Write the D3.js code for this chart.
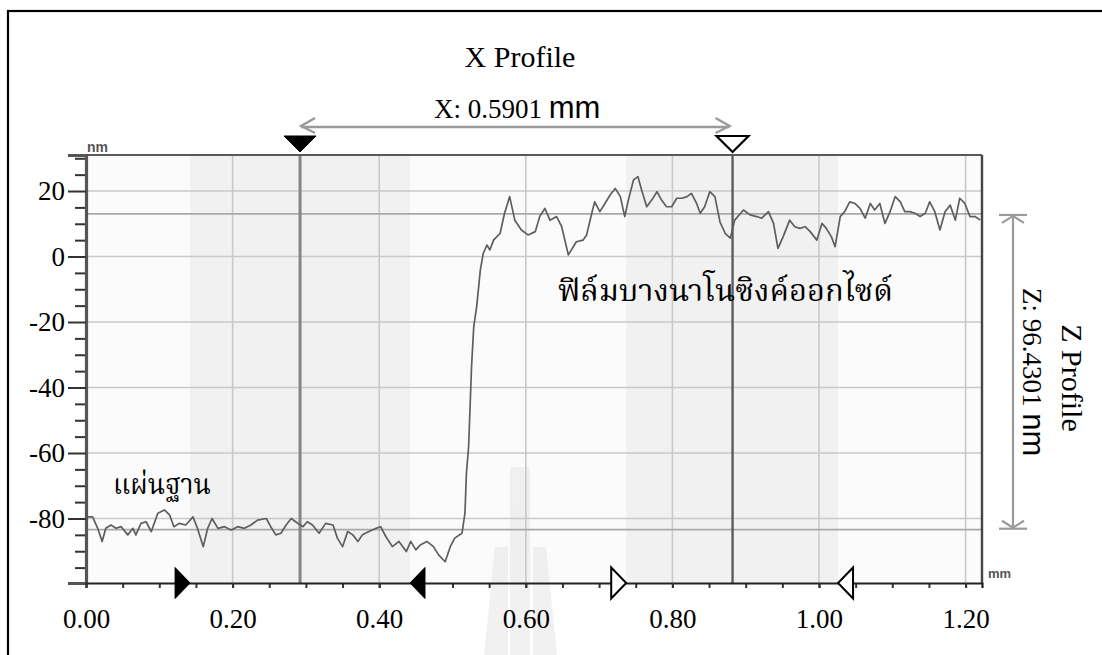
<!DOCTYPE html>
<html>
<head>
<meta charset="utf-8">
<script src="https://cdn.jsdelivr.net/npm/d3@7"></script>
<style>
  html, body { margin: 0; padding: 0; background: #ffffff; }
  svg { display: block; }
</style>
</head>
<body>
<svg id="chart" width="1102" height="655"></svg>
<script>
// ---------------- data ----------------
const profileX = [
  0.002,0.009,0.016,0.022,0.027,0.034,0.041,0.048,0.057,0.064,
  0.068,0.075,0.082,0.089,0.098,0.107,0.114,0.120,0.127,0.136,
  0.146,0.152,0.160,0.166,0.172,0.180,0.189,0.198,0.207,0.216,
  0.225,0.234,0.246,0.252,0.259,0.266,0.273,0.280,0.286,0.296,
  0.302,0.309,0.318,0.327,0.337,0.343,0.350,0.357,0.364,0.371,
  0.377,0.386,0.396,0.402,0.409,0.418,0.427,0.437,0.443,0.450,
  0.456,0.465,0.474,0.481,0.490,0.497,0.503,0.513,0.517,0.519,
  0.522,0.524,0.526,0.529,0.533,0.538,0.542,0.547,0.551,0.556,
  0.565,0.571,0.578,0.585,0.594,0.603,0.613,0.619,0.626,0.633,
  0.642,0.649,0.658,0.669,0.678,0.683,0.690,0.694,0.701,0.708,
  0.715,0.722,0.729,0.735,0.740,0.747,0.753,0.758,0.765,0.772,
  0.779,0.785,0.792,0.799,0.806,0.813,0.820,0.826,0.833,0.838,
  0.844,0.851,0.858,0.865,0.872,0.879,0.885,0.897,0.906,0.915,
  0.922,0.931,0.938,0.944,0.951,0.960,0.967,0.974,0.981,0.988,
  0.997,1.004,1.010,1.017,1.022,1.029,1.035,1.042,1.049,1.056,
  1.063,1.070,1.076,1.083,1.090,1.097,1.104,1.111,1.117,1.124,
  1.131,1.138,1.145,1.151,1.158,1.165,1.172,1.179,1.186,1.192,
  1.199,1.206,1.213,1.220
];
const profileZ = [
  -79.5,-79.5,-83,-87,-83,-82,-83,-82.5,-85,-83,
  -85,-81.5,-81,-84,-78.4,-77.4,-78.9,-82.5,-81.5,-82,
  -79.5,-83,-88.6,-83,-80,-83,-82.5,-83.5,-82.5,-83,
  -82,-80.5,-80,-82.5,-85,-84.5,-82,-80,-81,-82.5,
  -81,-82,-84.5,-81.5,-82,-86,-88.6,-84,-85,-87,
  -85,-84,-83,-82.5,-85.5,-88.6,-87,-90.1,-87,-89.6,
  -88.1,-87,-88.6,-91.1,-93.2,-88.6,-86,-84.5,-78.4,-66.2,
  -58.1,-45.9,-33.6,-21.4,-15.3,-4.1,1.0,3.5,2.0,5.0,
  7.1,13.2,18.3,11.1,8.1,6.6,7.6,12.2,14.7,11.1,
  12.2,9.1,0.5,4.5,5.0,6.6,13.2,16.7,13.7,16.2,
  18.8,20.8,18.3,12.2,17.3,23.4,24.4,20.3,15.2,17.3,
  19.8,17.3,15.2,15.2,17.8,17.8,18.3,19.3,16.2,13.2,
  15.2,19.8,18.3,10.5,7.1,5.6,11.1,14.2,12.7,12.2,
  11.7,13.7,10.1,2.5,6.0,11.1,9.1,8.6,9.1,7.6,
  5.0,10.1,8.6,6.0,3.0,12.2,13.7,16.7,16.2,14.7,
  11.7,16.2,14.2,16.2,10.1,13.7,18.3,16.7,13.7,13.7,
  13.2,12.2,13.2,16.7,13.7,8.1,13.7,15.7,11.1,17.8,
  16.2,12.2,12.2,11.1
];

const xTickValues = [0, 0.2, 0.4, 0.6, 0.8, 1.0, 1.2];
const xTickLabels = ["0.00", "0.20", "0.40", "0.60", "0.80", "1.00", "1.20"];
const yTickValues = [-80, -60, -40, -20, 0, 20];
const yTickLabels = ["-80", "-60", "-40", "-20", "0", "20"];

const cursorX = [0.292, 0.8821];          // X measurement cursors (mm)
const refLevels = [13.0, -83.4301];       // Z measurement reference levels (nm)
const regionStarts = [0.142, 0.737];      // shaded averaging regions (mm)
const regionEnds = [0.442, 1.026];

const titleText = "X Profile";
const xMeasure = "X: 0.5901 ";
const xUnit = "mm";
const zMeasure = "Z: 96.4301 ";
const zUnit = "nm";
const zTitle = "Z Profile";
const filmLabel = "ฟิล์มบางนาโนซิงค์ออกไซด์";
const substrateLabel = "แผ่นฐาน";

// ---------------- layout ----------------
const svg = d3.select("#chart");
const L = 86, T = 155, R = 982, B = 583;
const x = d3.scaleLinear().domain([0, 1.2224]).range([L, R]);
const y = d3.scaleLinear().domain([-99.7, 31.0]).range([B, T]);

const serif = "'Liberation Serif', 'Times New Roman', serif";
const sans = "'Liberation Sans', Arial, sans-serif";
const thai = "'Liberation Serif', 'Noto Serif Thai', 'Noto Sans Thai', serif";

// outer frame
svg.append("rect").attr("x", 8).attr("y", 11).attr("width", 1110).attr("height", 660)
  .attr("fill", "none").attr("stroke", "#000").attr("stroke-width", 2.2);

// plot background
svg.append("rect").attr("x", L).attr("y", T).attr("width", R - L).attr("height", B - T)
  .attr("fill", "#fbfbfb");

// shaded regions
svg.append("g").selectAll("rect").data(regionStarts).join("rect")
  .attr("x", (d) => x(d))
  .attr("y", T)
  .attr("width", (d, i) => x(regionEnds[i]) - x(d))
  .attr("height", B - T)
  .attr("fill", "#f1f1f1");

// faint watermark (background decoration of the scanned page)
const wm = svg.append("g").attr("fill", "#e2e2e2").attr("opacity", 0.45);
wm.append("rect").attr("x", 510).attr("y", 467).attr("width", 20).attr("height", 190);
wm.append("path").attr("d", "M495,547L508,547L508,655L484,655Z");
wm.append("path").attr("d", "M533,547L546,547L557,655L533,655Z");

// grid
const grid = svg.append("g").attr("stroke", "#c9c9c9").attr("stroke-width", 1.6);
grid.selectAll("line.v").data(xTickValues.filter((d) => d > 0)).join("line")
  .attr("x1", (d) => x(d)).attr("x2", (d) => x(d)).attr("y1", T).attr("y2", B);
grid.selectAll("line.h").data(yTickValues).join("line")
  .attr("x1", L).attr("x2", R).attr("y1", (d) => y(d)).attr("y2", (d) => y(d));

// reference levels
svg.append("g").selectAll("line").data(refLevels).join("line")
  .attr("x1", L).attr("x2", R).attr("y1", (d) => y(d)).attr("y2", (d) => y(d))
  .attr("stroke", "#a9a9a9").attr("stroke-width", 1.8);

// cursors
svg.append("g").selectAll("line").data(cursorX).join("line")
  .attr("x1", (d) => x(d)).attr("x2", (d) => x(d)).attr("y1", T).attr("y2", B)
  .attr("stroke", (d, i) => i === 0 ? "#858585" : "#5c5c5c")
  .attr("stroke-width", (d, i) => i === 0 ? 3 : 2.4);

// profile line
const line = d3.line().x((d, i) => x(profileX[i])).y((d) => y(d));
svg.append("path").datum(profileZ)
  .attr("d", line)
  .attr("fill", "none")
  .attr("stroke", "#5e5e5e")
  .attr("stroke-width", 1.7)
  .attr("stroke-linejoin", "round");

// frame of plot
svg.append("line").attr("x1", L).attr("x2", R).attr("y1", T).attr("y2", T)
  .attr("stroke", "#5a5a5a").attr("stroke-width", 2);
svg.append("line").attr("x1", R).attr("x2", R).attr("y1", T).attr("y2", B)
  .attr("stroke", "#444").attr("stroke-width", 2.4);

// y axis
const yMinor = d3.range(-95, 31, 5).filter((d) => !yTickValues.includes(d));
const yAxisMinor = d3.axisLeft(y).tickValues(yMinor).tickSize(11).tickFormat("");
const gyMinor = svg.append("g").attr("transform", `translate(${L},0)`).call(yAxisMinor);
gyMinor.select(".domain").remove();
gyMinor.selectAll("line").attr("stroke", "#333").attr("stroke-width", 2);

const yAxis = d3.axisLeft(y).tickValues(yTickValues).tickSize(18).tickPadding(3)
  .tickFormat((d) => yTickLabels[yTickValues.indexOf(d)]);
const gy = svg.append("g").attr("transform", `translate(${L},0)`).call(yAxis);
gy.select(".domain").attr("stroke", "#555").attr("stroke-width", 3.2);
gy.selectAll("line").attr("stroke", "#333").attr("stroke-width", 2);
gy.selectAll("text").attr("font-family", serif).attr("font-size", 27).attr("fill", "#000");

// x axis
const xAll = d3.range(0.05, 1.22, 0.05);
const xAxisMinor = d3.axisBottom(x).tickValues(xAll).tickSize(5).tickFormat("");
const gxMinor = svg.append("g").attr("transform", `translate(0,${B})`).call(xAxisMinor);
gxMinor.select(".domain").remove();
gxMinor.selectAll("line").attr("stroke", "#333").attr("stroke-width", 2);

const xAxis = d3.axisBottom(x).tickValues(xTickValues).tickSize(5).tickPadding(21)
  .tickFormat((d) => xTickLabels[xTickValues.indexOf(d)]);
const gx = svg.append("g").attr("transform", `translate(0,${B})`).call(xAxis);
gx.select(".domain").attr("stroke", "#222").attr("stroke-width", 2.2);
gx.selectAll("line").attr("stroke", "#333").attr("stroke-width", 2);
gx.selectAll("text").attr("font-family", serif).attr("font-size", 27).attr("fill", "#000");

// axis unit labels
svg.append("text").attr("x", L + 1).attr("y", T - 3).text("nm")
  .attr("font-family", sans).attr("font-weight", "bold").attr("font-size", 14).attr("fill", "#555");
svg.append("text").attr("x", R + 6).attr("y", B - 5).text("mm")
  .attr("font-family", sans).attr("font-weight", "bold").attr("font-size", 13).attr("fill", "#555");

// region markers on x axis
const mk = svg.append("g");
regionStarts.forEach((d, i) => {
  const tip = x(d);
  mk.append("path")
    .attr("d", `M${tip - 15},${B - 15.5}L${tip},${B}L${tip - 15},${B + 15.5}Z`)
    .attr("fill", i === 0 ? "#000" : "#fff").attr("stroke", "#000").attr("stroke-width", i === 0 ? 1 : 2);
});
regionEnds.forEach((d, i) => {
  const tip = x(d);
  mk.append("path")
    .attr("d", `M${tip + 15},${B - 15.5}L${tip},${B}L${tip + 15},${B + 15.5}Z`)
    .attr("fill", i === 0 ? "#000" : "#fff").attr("stroke", "#000").attr("stroke-width", i === 0 ? 1 : 2);
});

// cursor triangles on top
cursorX.forEach((d, i) => {
  const cx = x(d);
  svg.append("path")
    .attr("d", `M${cx - 16},${T - 19}L${cx + 16},${T - 19}L${cx},${T - 3}Z`)
    .attr("fill", i === 0 ? "#000" : "#fff").attr("stroke", "#000").attr("stroke-width", i === 0 ? 1 : 2.2);
});

// X measurement arrow
const ay = 127;
const ax1 = x(cursorX[0]) + 1, ax2 = x(cursorX[1]) - 3;
const arrow = svg.append("g").attr("stroke", "#9a9a9a").attr("stroke-width", 2.4).attr("fill", "none");
arrow.append("line").attr("x1", ax1).attr("x2", ax2).attr("y1", ay).attr("y2", ay);
arrow.append("path").attr("d", `M${ax1 + 14},${ay - 9}L${ax1},${ay - 1}L${ax1 + 14},${ay + 6}`);
arrow.append("path").attr("d", `M${ax2 - 14},${ay - 9}L${ax2},${ay - 1}L${ax2 - 14},${ay + 6}`);

// Z measurement arrow
const zx = 1013;
const zy1 = y(refLevels[0]) + 1, zy2 = y(refLevels[1]) - 1;
const zarrow = svg.append("g").attr("stroke", "#9a9a9a").attr("stroke-width", 2.2).attr("fill", "none");
zarrow.append("line").attr("x1", zx).attr("x2", zx).attr("y1", zy1).attr("y2", zy2);
zarrow.append("line").attr("x1", zx - 14).attr("x2", zx + 14).attr("y1", zy1).attr("y2", zy1);
zarrow.append("line").attr("x1", zx - 14).attr("x2", zx + 14).attr("y1", zy2).attr("y2", zy2);
zarrow.append("path").attr("d", `M${zx - 11},${zy1 + 8}L${zx},${zy1 + 1}L${zx + 11},${zy1 + 8}`);
zarrow.append("path").attr("d", `M${zx - 11},${zy2 - 8}L${zx},${zy2 - 1}L${zx + 11},${zy2 - 8}`);

// titles
svg.append("text").attr("x", 520).attr("y", 67).attr("text-anchor", "middle")
  .attr("font-family", serif).attr("font-size", 30).attr("fill", "#000").text(titleText);

const xm = svg.append("text").attr("x", 434).attr("y", 118).attr("fill", "#000");
xm.append("tspan").attr("font-family", serif).attr("font-size", 27).text(xMeasure);
xm.append("tspan").attr("font-family", sans).attr("font-size", 31).text(xUnit);

const zm = svg.append("text").attr("transform", "translate(1023,288) rotate(90)").attr("fill", "#000");
zm.append("tspan").attr("font-family", serif).attr("font-size", 27).text(zMeasure);
zm.append("tspan").attr("font-family", sans).attr("font-size", 31).text(zUnit);

svg.append("text").attr("transform", "translate(1062,378) rotate(90)").attr("text-anchor", "middle")
  .attr("font-family", serif).attr("font-size", 30).attr("fill", "#000").text(zTitle);

// Thai annotations
svg.append("text").attr("x", 558).attr("y", 301)
  .attr("font-family", thai).attr("font-size", 30).attr("fill", "#000")
  .attr("textLength", 335).attr("lengthAdjust", "spacingAndGlyphs").text(filmLabel);
svg.append("text").attr("x", 113).attr("y", 494)
  .attr("font-family", thai).attr("font-size", 29).attr("fill", "#000")
  .attr("textLength", 98).attr("lengthAdjust", "spacingAndGlyphs").text(substrateLabel);
</script>
</body>
</html>
